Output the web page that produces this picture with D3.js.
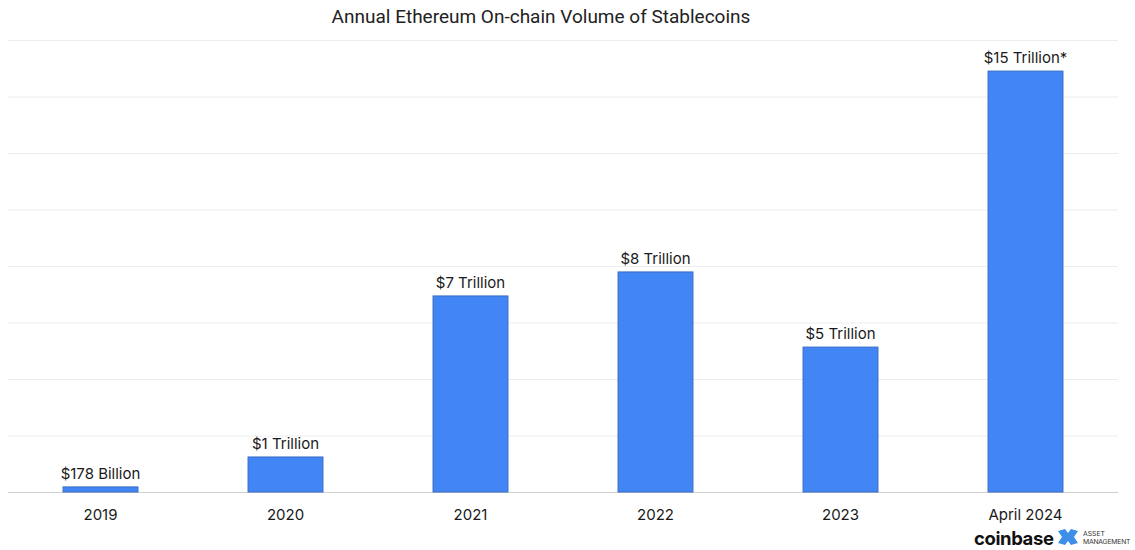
<!DOCTYPE html>
<html>
<head>
<meta charset="utf-8">
<script src="https://cdn.jsdelivr.net/npm/d3@7"></script>
<style>
  body { margin: 0; background: #fff; }
  svg { display: block; font-family: Inter, "Noto Sans", sans-serif; }
</style>
</head>
<body>
<svg id="chart" width="1135" height="550"></svg>
<script>
// data (trillion USD)
const years = ['2019', '2020', '2021', '2022', '2023', 'April 2024'];
const volumes = [0.18, 1.24, 6.94, 7.79, 5.13, 14.9];
const valueLabels = ['$178 Billion', '$1 Trillion', '$7 Trillion', '$8 Trillion', '$5 Trillion', '$15 Trillion*'];
const gridTicks = [0, 2, 4, 6, 8, 10, 12, 14, 16];

const margin = {left: 8, right: 17, top: 40, bottom: 58};
const width = 1135, height = 550;
const svg = d3.select('#chart');

const x = d3.scaleBand()
  .domain(years)
  .range([margin.left, width - margin.right])
  .paddingInner(0.595)
  .paddingOuter(0.2975);
const y = d3.scaleLinear()
  .domain([0, 16])
  .range([height - margin.bottom, margin.top]);

// title
svg.append('text')
  .attr('x', 541)
  .attr('y', 23)
  .attr('text-anchor', 'middle')
  .attr('font-size', 19)
  .attr('font-family', 'Roboto, sans-serif')
  .attr('fill', '#222')
  .text('Annual Ethereum On-chain Volume of Stablecoins');

// gridlines
const grid = d3.axisLeft(y).tickValues(gridTicks)
  .tickSize(-(width - margin.left - margin.right)).tickFormat('');
svg.append('g')
  .attr('transform', `translate(${margin.left},0)`)
  .call(grid)
  .call(g => g.select('.domain').remove())
  .call(g => g.selectAll('.tick line')
    .attr('stroke', d => d === 0 ? '#cfcfcf' : '#ececec')
    .attr('stroke-width', d => d === 0 ? 1.2 : 1));

// bars
svg.append('g').selectAll('rect')
  .data(years)
  .join('rect')
  .attr('x', d => x(d))
  .attr('width', x.bandwidth())
  .attr('y', (d, i) => y(volumes[i]))
  .attr('height', (d, i) => y(0) - y(volumes[i]))
  .attr('fill', '#4285f4')
  .attr('stroke', '#3a6cc4')
  .attr('stroke-width', 1);

// value labels
svg.append('g').selectAll('text')
  .data(years)
  .join('text')
  .attr('x', d => x(d) + x.bandwidth() / 2)
  .attr('y', (d, i) => y(volumes[i]) - 8)
  .attr('text-anchor', 'middle')
  .attr('font-size', 15)
  .attr('fill', '#1a1a1a')
  .text((d, i) => valueLabels[i]);

// x axis
const xAxis = d3.axisBottom(x).tickSize(0).tickPadding(17);
svg.append('g')
  .attr('transform', `translate(0,${y(0)})`)
  .call(xAxis)
  .call(g => g.select('.domain').remove())
  .call(g => g.selectAll('text')
    .attr('font-size', 15)
    .attr('font-family', 'Inter, "Noto Sans", sans-serif')
    .attr('fill', '#1a1a1a'));

// logo
const logo = svg.append('g').attr('transform', 'translate(974,545)');
logo.append('text')
  .attr('font-size', 18.5)
  .attr('font-weight', 700)
  .attr('fill', '#111')
  .attr('letter-spacing', -0.4)
  .text('coinbase');
const icon = logo.append('g').attr('transform', 'translate(84,-16)');
icon.append('path')
  .attr('d', 'M0,2 L7,0 L10,4 L13,0 L20,2 L16,8 L20,14 L13,16 L10,12 L7,16 L0,14 L4,8 Z')
  .attr('fill', '#3d8ee8');
logo.append('text')
  .attr('x', 109).attr('y', -9)
  .attr('font-size', 6.8)
  .attr('fill', '#333')
  .text('ASSET');
logo.append('text')
  .attr('x', 109).attr('y', -1.5)
  .attr('font-size', 6.8)
  .attr('letter-spacing', -0.2)
  .attr('fill', '#333')
  .text('MANAGEMENT');
</script>
</body>
</html>
